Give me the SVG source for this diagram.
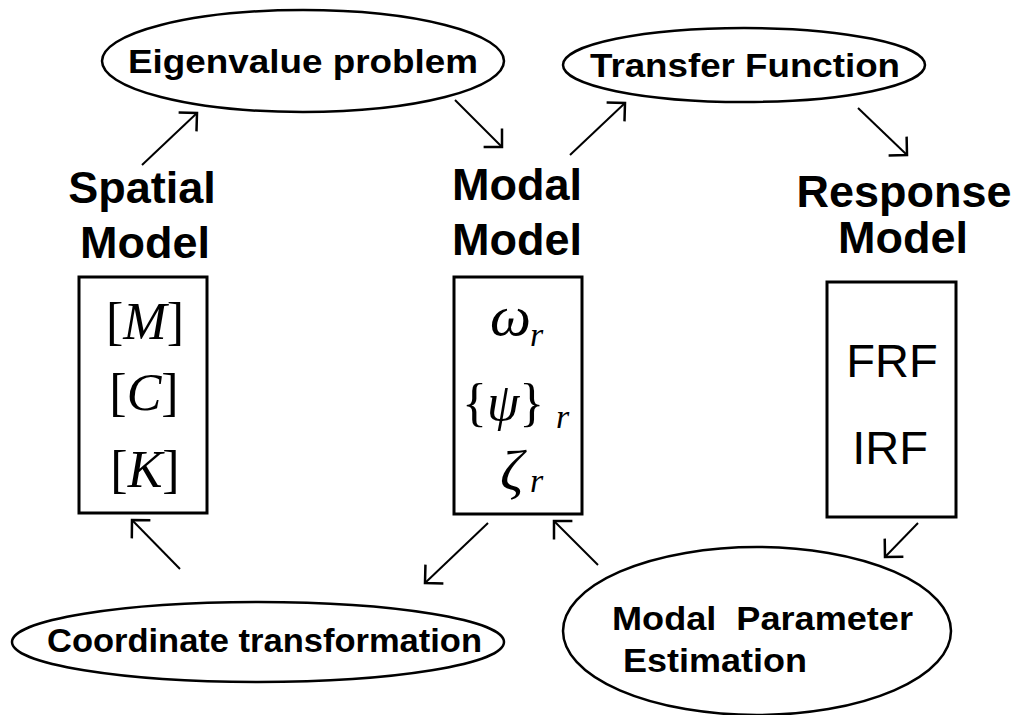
<svg xmlns="http://www.w3.org/2000/svg" width="1021" height="715" viewBox="0 0 1021 715">
<style>
.ell{fill:#fff;stroke:#000;stroke-width:2.5}
.box{fill:#fff;stroke:#000;stroke-width:3}
.lbl{font-family:"Liberation Sans",Arial,sans-serif;font-weight:bold;font-size:34px;fill:#000;white-space:pre}
.ttl{font-family:"Liberation Sans",Arial,sans-serif;font-weight:bold;font-size:45px;fill:#000;text-anchor:middle}
.rsp{font-family:"Liberation Sans",Arial,sans-serif;font-size:47px;fill:#000;text-anchor:middle}
.math{font-family:"Liberation Serif","Times New Roman",serif;font-size:52px;fill:#000}
.mi{font-style:italic}
.big{font-size:58px}
.sub{font-family:"Liberation Serif","Times New Roman",serif;font-style:italic;font-size:34px;fill:#000}
.arr{stroke:#000;stroke-width:2;fill:none;marker-end:url(#ah)}
</style>
<defs>
<marker id="ah" markerUnits="userSpaceOnUse" markerWidth="30" markerHeight="30" viewBox="-20 -15 25 30" refX="0" refY="0" orient="auto">
<path d="M-13,-13 L0,0 L-13,13" fill="none" stroke="#000" stroke-width="2.5"/>
</marker>
</defs>
<rect width="1021" height="715" fill="#fff"/>

<g id="connectors">
<line class="arr" x1="142" y1="165" x2="197" y2="113"/>
<line class="arr" x1="455" y1="100" x2="502" y2="147"/>
<line class="arr" x1="570" y1="155" x2="625" y2="103"/>
<line class="arr" x1="858" y1="108" x2="907" y2="155"/>
<line class="arr" x1="918" y1="523" x2="885" y2="557"/>
<line class="arr" x1="598" y1="565" x2="554" y2="521"/>
<line class="arr" x1="488" y1="523" x2="425" y2="583"/>
<line class="arr" x1="180" y1="569" x2="132" y2="520"/>
</g>

<g id="eigen">
<ellipse class="ell" cx="303" cy="61" rx="201" ry="51"/>
<text class="lbl" x="128" y="73" textLength="350" lengthAdjust="spacingAndGlyphs">Eigenvalue problem</text>
</g>

<g id="transfer">
<ellipse class="ell" cx="744" cy="65" rx="181" ry="37"/>
<text class="lbl" x="590" y="77" textLength="310" lengthAdjust="spacingAndGlyphs">Transfer Function</text>
</g>

<g id="spatial">
<text class="ttl" x="142" y="203">Spatial</text>
<text class="ttl" x="145" y="258">Model</text>
<rect class="box" x="79" y="277" width="128" height="236"/>
<text class="math" x="145" y="339" text-anchor="middle">[<tspan class="mi">M</tspan>]</text>
<text class="math" x="144" y="410" text-anchor="middle">[<tspan class="mi">C</tspan>]</text>
<text class="math" x="145" y="487" text-anchor="middle">[<tspan class="mi">K</tspan>]</text>
</g>

<g id="modal">
<text class="ttl" x="517" y="200">Modal</text>
<text class="ttl" x="517" y="255">Model</text>
<rect class="box" x="454" y="277" width="128" height="237"/>
<text class="math mi big" x="490" y="335">ω</text>
<text class="sub" x="530" y="346">r</text>
<text class="math" x="462" y="420">{<tspan class="mi">ψ</tspan>}</text>
<text class="sub" x="556" y="428">r</text>
<text class="math mi big" x="500" y="490">ζ</text>
<text class="sub" x="530" y="492">r</text>
</g>

<g id="response">
<text class="ttl" x="904" y="207">Response</text>
<text class="ttl" x="903" y="253">Model</text>
<rect class="box" x="827" y="282" width="129" height="235"/>
<text class="rsp" x="892" y="377">FRF</text>
<text class="rsp" x="890" y="464">IRF</text>
</g>

<g id="coordinate">
<ellipse class="ell" cx="258" cy="642" rx="246" ry="40"/>
<text class="lbl" x="47" y="652" textLength="435" lengthAdjust="spacingAndGlyphs">Coordinate transformation</text>
</g>

<g id="mpe">
<ellipse class="ell" cx="757" cy="631" rx="194" ry="84"/>
<text class="lbl" x="612" y="630" textLength="301" lengthAdjust="spacingAndGlyphs">Modal  Parameter</text>
<text class="lbl" x="623" y="672" textLength="184" lengthAdjust="spacingAndGlyphs">Estimation</text>
</g>
</svg>
